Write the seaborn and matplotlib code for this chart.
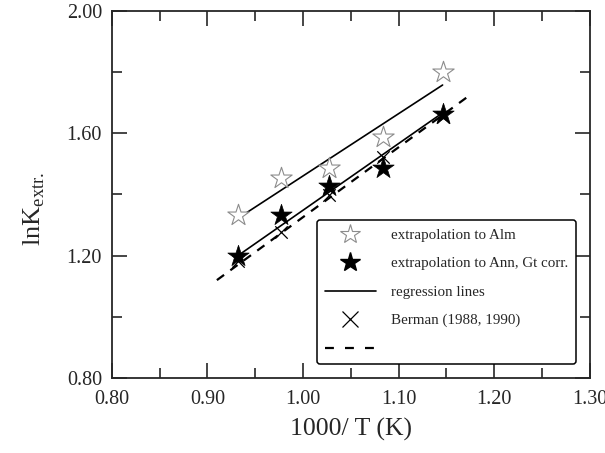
import numpy as np
import matplotlib
matplotlib.use("Agg")
import matplotlib.pyplot as plt
from matplotlib.lines import Line2D
from matplotlib.ticker import MultipleLocator, FormatStrFormatter
import seaborn as sns

# 1000/T for 800, 750, 700, 650, 600 degC
inv_t = [0.932, 0.977, 1.027, 1.084, 1.146]

# lnK extrapolated to almandine (open stars)
lnk_alm = [1.333, 1.453, 1.487, 1.588, 1.800]
# lnK extrapolated to annite, garnet corrected (filled stars)
lnk_ann = [1.198, 1.332, 1.428, 1.487, 1.662]
# Berman (1988, 1990)
lnk_berman = [1.183, 1.278, 1.398, 1.524, 1.655]

# regression line end points
reg_x = [0.932, 1.146]
reg_alm = [1.322, 1.758]
reg_ann = [1.200, 1.667]

# Berman dashed line end points
berman_x = [0.910, 1.175]
berman_y = [1.120, 1.726]

sns.set_style("ticks")
plt.rcParams["font.family"] = ["Liberation Serif", "DejaVu Serif"]
plt.rcParams["mathtext.fontset"] = "custom"
plt.rcParams["mathtext.rm"] = "Liberation Serif"

fig = plt.figure(figsize=(6.05, 4.53), dpi=100)
ax = fig.add_axes([0.1846, 0.1656, 0.7904, 0.8101])

# lines
sns.lineplot(x=berman_x, y=berman_y, color="black", lw=1.6,
             linestyle=(0, (4, 3.5)), ax=ax, zorder=2)
sns.lineplot(x=reg_x, y=reg_alm, color="black", lw=1.2, ax=ax, zorder=2)
sns.lineplot(x=reg_x, y=reg_ann, color="black", lw=1.2, ax=ax, zorder=2)

# points
sns.scatterplot(x=inv_t, y=lnk_berman, marker="x", s=80, color="black",
                linewidth=0.9, ax=ax, zorder=3)
sns.scatterplot(x=inv_t, y=lnk_alm, marker="*", s=260, facecolor="white",
                edgecolor="#8c8c8c", linewidth=0.8, ax=ax, zorder=4)
sns.scatterplot(x=inv_t, y=lnk_ann, marker="*", s=260, color="black",
                edgecolor="black", linewidth=0.5, ax=ax, zorder=5)

ax.set_xlim(0.80, 1.30)
ax.set_ylim(0.80, 2.00)
ax.xaxis.set_major_locator(MultipleLocator(0.10))
ax.xaxis.set_minor_locator(MultipleLocator(0.05))
ax.yaxis.set_major_locator(MultipleLocator(0.40))
ax.yaxis.set_minor_locator(MultipleLocator(0.20))
ax.xaxis.set_major_formatter(FormatStrFormatter("%.2f"))
ax.yaxis.set_major_formatter(FormatStrFormatter("%.2f"))

ax.tick_params(which="both", direction="in", top=True, right=True,
               width=1.2, labelsize=14.5, pad=7)
ax.tick_params(axis="x", pad=9)
ax.tick_params(which="major", length=11)
ax.tick_params(which="minor", length=7.5)
for sp in ax.spines.values():
    sp.set_linewidth(1.3)

ax.set_xlabel("1000/ T (K)", fontsize=18.5, labelpad=6)
ax.set_ylabel(r"lnK$_{\mathrm{extr.}}$", fontsize=19)
ax.yaxis.set_label_coords(-0.135, 0.46)

handles = [
    Line2D([], [], marker="*", ls="none", ms=15, mfc="white",
           mec="#8c8c8c", mew=0.8),
    Line2D([], [], marker="*", ls="none", ms=15, mfc="black", mec="black"),
    Line2D([], [], color="black", lw=1.2),
    Line2D([], [], marker="x", ls="none", ms=11, color="black", mew=0.9),
    Line2D([], [], color="black", lw=1.6, ls=(0, (4, 5))),
]
labels = ["extrapolation to Alm", "extrapolation to Ann, Gt corr.",
          "regression lines", "Berman (1988, 1990)", ""]
leg = ax.legend(handles, labels, loc="upper left",
                bbox_to_anchor=(0.4286, 0.4305), fontsize=10.8,
                handlelength=3.4, handletextpad=1.0, labelspacing=1.0,
                borderpad=0.55, borderaxespad=0, fancybox=True,
                framealpha=1, edgecolor="black")
leg.get_frame().set_linewidth(1.1)

fig.savefig("out.png", dpi=100)
